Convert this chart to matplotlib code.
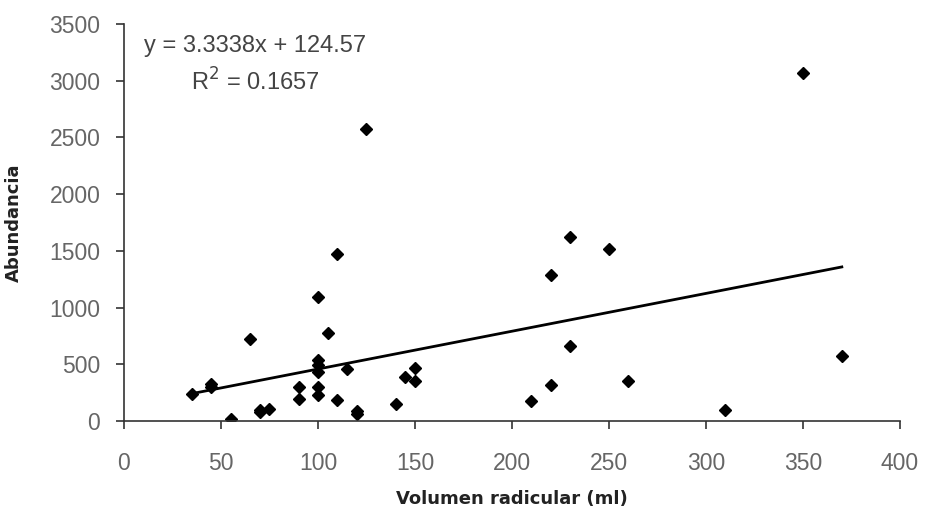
import numpy as np
import matplotlib
matplotlib.use('Agg')
import matplotlib.pyplot as plt

# datos
volumen = [35, 45, 45, 55, 65, 70, 70, 75, 90, 90, 100, 100, 100, 100, 100, 100,
           105, 110, 110, 115, 120, 120, 125, 140, 145, 150, 150,
           210, 220, 220, 230, 230, 250, 260, 310, 350, 370]
abundancia = [235, 330, 300, 15, 720, 80, 95, 110, 300, 195, 1090, 540, 490, 430, 300, 230,
              780, 1470, 185, 455, 90, 60, 2570, 150, 390, 465, 355,
              180, 1290, 320, 1620, 660, 1520, 350, 100, 3070, 570]

pendiente = 3.3338
intercepto = 124.57
r2 = 0.1657

fig = plt.figure(figsize=(9.35, 5.08), dpi=100)
ax = fig.add_axes([0.1326, 0.1713, 0.83, 0.7815])

ax.plot(volumen, abundancia, linestyle='none', marker='D', markersize=6,
        color='black')

# linea de tendencia
xs = np.array([min(volumen), max(volumen)])
ax.plot(xs, pendiente * xs + intercepto, color='black', linewidth=2)

ax.set_xlim(0, 400)
ax.set_ylim(0, 3500)
ax.set_xticks(np.arange(0, 401, 50))
ax.set_yticks(np.arange(0, 3501, 500))

for s in ['top', 'right']:
    ax.spines[s].set_visible(False)
for s in ['left', 'bottom']:
    ax.spines[s].set_color('#333333')
    ax.spines[s].set_linewidth(1.2)

ax.tick_params(direction='out', length=6, width=1.2, color='#333333',
               labelsize=16.5, labelcolor='#666666')
ax.tick_params(axis='y', pad=11)
ax.tick_params(axis='x', pad=16)
for lab in ax.get_xticklabels() + ax.get_yticklabels():
    lab.set_family('Liberation Sans')

ax.set_xlabel('Volumen radicular (ml)', fontsize=13, fontweight='bold',
              color='#222222', labelpad=11)
ax.set_ylabel('Abundancia', fontsize=13, fontweight='bold',
              color='#222222', labelpad=19)

ax.text(255 / 935, 1 - 46 / 508, 'y = 3.3338x + 124.57', transform=fig.transFigure,
        ha='center', va='center', fontsize=17, family='Liberation Sans',
        color='#444444')
ax.text(255 / 935, 1 - 82 / 508, 'R$^2$ = 0.1657', transform=fig.transFigure,
        ha='center', va='center', fontsize=17, family='Liberation Sans',
        color='#444444')

fig.savefig('out.png', dpi=100)
